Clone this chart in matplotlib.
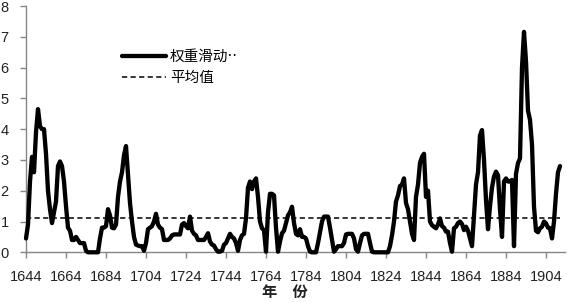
import numpy as np
import matplotlib
matplotlib.use("Agg")
import matplotlib.pyplot as plt

# ---- data ----
start_year = 1644
values = [
    0.45, 0.9, 2.3, 3.1, 2.6, 3.9, 4.65, 4.1, 4.0, 4.0,        # 1644-1653
    3.2, 2.0, 1.4, 0.95, 1.3, 1.65, 2.8, 2.95, 2.8, 2.3,       # 1654-1663
    1.5, 0.8, 0.7, 0.4, 0.4, 0.5, 0.4, 0.3, 0.3, 0.3,          # 1664-1673
    0.05, 0, 0, 0, 0, 0, 0, 0.45, 0.8, 0.8,                    # 1674-1683
    0.85, 1.4, 1.2, 0.8, 0.78, 0.9, 1.8, 2.3, 2.6, 3.15,       # 1684-1693
    3.45, 2.5, 1.6, 1.0, 0.5, 0.25, 0.22, 0.2, 0.2, 0.05,      # 1694-1703
    0.3, 0.75, 0.8, 0.85, 1.0, 1.25, 0.9, 0.8, 0.75, 0.4,      # 1704-1713
    0.4, 0.4, 0.45, 0.55, 0.58, 0.58, 0.58, 0.58, 0.9, 0.95,   # 1714-1723
    0.85, 0.78, 1.16, 0.7, 0.6, 0.55, 0.4, 0.4, 0.4, 0.4,      # 1724-1733
    0.5, 0.62, 0.35, 0.25, 0.22, 0.1, 0.02, 0.02, 0.05, 0.25,  # 1734-1743
    0.3, 0.45, 0.6, 0.5, 0.45, 0.3, 0.05, 0.4, 0.55, 0.6,      # 1744-1753
    1.1, 2.1, 2.3, 2.05, 2.3, 2.4, 1.8, 1.0, 0.78, 0.72,       # 1754-1763
    0.02, 1.3, 1.9, 1.9, 1.85, 0.8, 0.02, 0.35, 0.62, 0.7,     # 1764-1773
    0.95, 1.2, 1.3, 1.48, 0.95, 0.6, 0.55, 0.75, 0.5, 0.5,     # 1774-1783
    0.45, 0.2, 0.02, 0, 0, 0, 0.3, 0.65, 1.0, 1.16,            # 1784-1793
    1.16, 1.16, 0.8, 0.4, 0.02, 0.1, 0.2, 0.2, 0.2, 0.3,       # 1794-1803
    0.58, 0.6, 0.6, 0.6, 0.45, 0.1, 0.02, 0.3, 0.55, 0.6,      # 1804-1813
    0.6, 0.6, 0.3, 0.02, 0, 0, 0, 0, 0, 0,                     # 1814-1823
    0, 0, 0.2, 0.55, 1.0, 1.65, 1.85, 2.15, 2.2, 2.4,          # 1824-1833
    1.6, 1.4, 1.0, 0.6, 0.4, 1.8, 2.2, 2.9, 3.1, 3.2,          # 1834-1843
    1.8, 2.0, 1.0, 0.88, 0.83, 0.78, 0.9, 1.1, 0.85, 0.8,      # 1844-1853
    0.67, 0.67, 0.3, 0.02, 0.78, 0.83, 0.95, 1.0, 0.92, 0.72,  # 1854-1863
    0.83, 0.7, 0.45, 0.2, 1.2, 2.2, 2.6, 3.8, 3.97, 3.0,       # 1864-1873
    1.7, 0.75, 1.5, 2.1, 2.46, 2.62, 2.5, 1.4, 0.5, 2.3,       # 1874-1883
    2.4, 2.3, 2.3, 2.35, 0.2, 2.55, 2.9, 3.05, 6.0, 7.16,      # 1884-1893
    6.2, 4.6, 4.3, 3.5, 1.48, 0.7, 0.65, 0.78, 0.83, 1.0,      # 1894-1903
    0.94, 0.8, 0.78, 0.45, 1.0, 1.9, 2.6, 2.8,                 # 1904-1911
]
mean_value = 1.12
x_tick_labels = [1644, 1664, 1684, 1704, 1724, 1744, 1764, 1784, 1804, 1824,
                 1844, 1864, 1884, 1904]
y_ticks = [0, 1, 2, 3, 4, 5, 6, 7, 8]
series_label = "权重滑动··"
mean_label = "平均值"
x_title = "年　份"

years = np.arange(start_year, start_year + len(values))
mean_series = np.full(len(values), mean_value)

# ---- figure ----
W, H = 567, 303
fig = plt.figure(figsize=(W / 100, H / 100), dpi=100)
ax = fig.add_axes([26 / W, 1 - 252.3 / H, (565 - 26) / W, (252.3 - 6) / H])

cjk = ['Noto Sans CJK SC', 'DejaVu Sans']
legend_fonts = ['DejaVu Sans', 'Noto Sans CJK SC']
axis_grey = '#868686'

ax.plot(years, values, color='black', lw=3.1, solid_joinstyle='round',
        solid_capstyle='round', clip_on=False, label=series_label, zorder=3)
ax.plot(years, mean_series, color='black', lw=1.1, dashes=(3.4, 2.2),
        label=mean_label, zorder=2)

ax.set_xlim(1644, 1913.5)
ax.set_ylim(0, 8)
ax.set_xticks(x_tick_labels)
ax.set_xticklabels([str(v) for v in x_tick_labels])
ax.set_yticks(y_ticks)

for s in ['top', 'right']:
    ax.spines[s].set_visible(False)
for s in ['left', 'bottom']:
    ax.spines[s].set_color(axis_grey)
    ax.spines[s].set_linewidth(1.0)

ax.tick_params(axis='both', colors=axis_grey, length=4, width=1.0,
               labelcolor='#222222', labelsize=10.5)
ax.tick_params(axis='y', pad=8.5)
ax.tick_params(axis='x', pad=9)
for lab in ax.get_xticklabels() + ax.get_yticklabels():
    lab.set_fontfamily(['Liberation Sans', 'DejaVu Sans'])

leg = ax.legend(loc='upper left', bbox_to_anchor=(122 / W, 1 - 49 / H),
                bbox_transform=fig.transFigure, frameon=False,
                prop={'family': legend_fonts, 'size': 10.5},
                handlelength=3.0, handletextpad=0.3, labelspacing=0.42,
                borderpad=0, borderaxespad=0)

fig.text(285 / W, 1 - 292 / H, x_title, ha='center', va='center',
         family=cjk, fontsize=11, fontweight='bold', color='#222222')

fig.savefig('out.png', dpi=100)
